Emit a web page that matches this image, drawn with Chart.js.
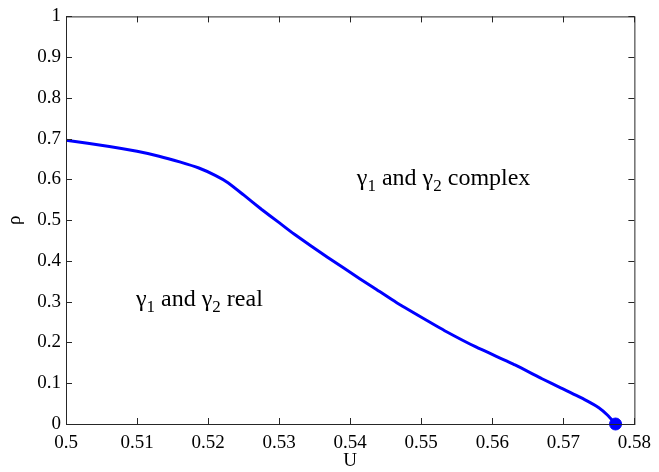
<!DOCTYPE html>
<html>
<head>
<meta charset="utf-8">
<script src="https://cdn.jsdelivr.net/npm/chart.js@4/dist/chart.umd.min.js"></script>
<style>
  html, body { margin: 0; padding: 0; background: #fff; }
  #wrap { width: 659px; height: 472px; }
</style>
</head>
<body>
<div id="wrap"><canvas id="boundary"></canvas></div>
<script>
// boundary curve rho(U) between real and complex gamma
const uValues = [0.500, 0.5061, 0.510, 0.5131, 0.516, 0.5187, 0.521, 0.5228, 0.525, 0.5275,
  0.530, 0.5321, 0.5368, 0.5414, 0.5437, 0.5465, 0.5502, 0.5535, 0.5577, 0.5632,
  0.567, 0.5697, 0.573, 0.575, 0.5762, 0.57735];
const rhoValues = [0.696, 0.681, 0.669, 0.657, 0.643, 0.628, 0.610, 0.592, 0.562, 0.527,
  0.494, 0.466, 0.409, 0.356, 0.330, 0.298, 0.260, 0.227, 0.189, 0.145,
  0.111, 0.088, 0.060, 0.040, 0.022, 0.000];
const endPoint = [0.57735, 0];

const xTicks = [0.5, 0.51, 0.52, 0.53, 0.54, 0.55, 0.56, 0.57, 0.58];
const yTicks = [0, 0.1, 0.2, 0.3, 0.4, 0.5, 0.6, 0.7, 0.8, 0.9, 1];

// region labels: [U, rho, first subscript, second subscript, tail word]
const regionLabels = [
  [0.50985, 0.289, '1', '2', 'real'],
  [0.54094, 0.586, '1', '2', 'complex']
];

const serif = '"Liberation Serif", "Times New Roman", serif';
const axisColor = '#262626';

// MATLAB-style box with inward ticks plus the region text
const boxPlugin = {
  id: 'box',
  afterDraw(chart) {
    const { ctx, chartArea: a, scales: { x, y } } = chart;
    ctx.save();
    ctx.strokeStyle = axisColor;
    ctx.lineWidth = 1;
    ctx.strokeRect(a.left + 0.5, a.top + 0.5, a.right - a.left, a.bottom - a.top);
    ctx.beginPath();
    xTicks.forEach(v => {
      const px = Math.round(x.getPixelForValue(v)) + 0.5;
      ctx.moveTo(px, a.bottom); ctx.lineTo(px, a.bottom - 6);
      ctx.moveTo(px, a.top); ctx.lineTo(px, a.top + 6);
    });
    yTicks.forEach(v => {
      const py = Math.round(y.getPixelForValue(v)) + 0.5;
      ctx.moveTo(a.left, py); ctx.lineTo(a.left + 6, py);
      ctx.moveTo(a.right, py); ctx.lineTo(a.right - 6, py);
    });
    ctx.stroke();

    ctx.fillStyle = '#000';
    ctx.textBaseline = 'alphabetic';
    ctx.textAlign = 'left';
    const big = '24px ' + serif;
    const small = '17px ' + serif;
    regionLabels.forEach(([u, r, s1, s2, word]) => {
      let px = x.getPixelForValue(u);
      const py = y.getPixelForValue(r);
      const put = (txt, font, dy) => {
        ctx.font = font;
        ctx.fillText(txt, px, py + dy);
        px += ctx.measureText(txt).width;
      };
      put('\u03B3', big, 0);
      put(s1, small, 6);
      put(' and \u03B3', big, 0);
      put(s2, small, 6);
      put(' ' + word, big, 0);
    });
    ctx.restore();
  }
};

new Chart(document.getElementById('boundary'), {
  type: 'scatter',
  data: {
    datasets: [
      {
        data: uValues.map((u, i) => ({ x: u, y: rhoValues[i] })),
        showLine: true,
        borderColor: '#0000ff',
        borderWidth: 3,
        pointRadius: 0,
        tension: 0.15,
        fill: false
      },
      {
        data: [{ x: endPoint[0], y: endPoint[1] }],
        pointRadius: 6,
        pointBackgroundColor: '#0000ff',
        pointBorderColor: '#0000ff',
        clip: false
      }
    ]
  },
  options: {
    responsive: true,
    maintainAspectRatio: false,
    animation: false,
    layout: { padding: { top: 16, right: 19, left: 0, bottom: 0 } },
    plugins: { legend: { display: false }, tooltip: { enabled: false } },
    scales: {
      x: {
        type: 'linear',
        min: 0.5, max: 0.58,
        afterBuildTicks: s => { s.ticks = xTicks.map(v => ({ value: v })); },
        afterFit: s => { s.height = 48; },
        grid: { display: false, drawTicks: false },
        border: { display: false },
        ticks: {
          color: '#000', padding: 8,
          font: { family: serif, size: 19 },
          callback: v => String(+v.toFixed(2))
        },
        title: {
          display: true, text: 'U', color: '#000',
          font: { family: serif, size: 19 }, padding: { top: 0, bottom: 0 }
        }
      },
      y: {
        type: 'linear',
        min: 0, max: 1,
        afterBuildTicks: s => { s.ticks = yTicks.map(v => ({ value: v })); },
        afterFit: s => { s.width = 66; },
        grid: { display: false, drawTicks: false },
        border: { display: false },
        ticks: {
          color: '#000', padding: 5,
          font: { family: serif, size: 19 },
          callback: v => String(+v.toFixed(1))
        },
        title: {
          display: true, text: '\u03C1', color: '#000',
          font: { family: serif, size: 19 }, padding: { top: 4, bottom: 0 }
        }
      }
    }
  },
  plugins: [boxPlugin]
});
</script>
</body>
</html>
